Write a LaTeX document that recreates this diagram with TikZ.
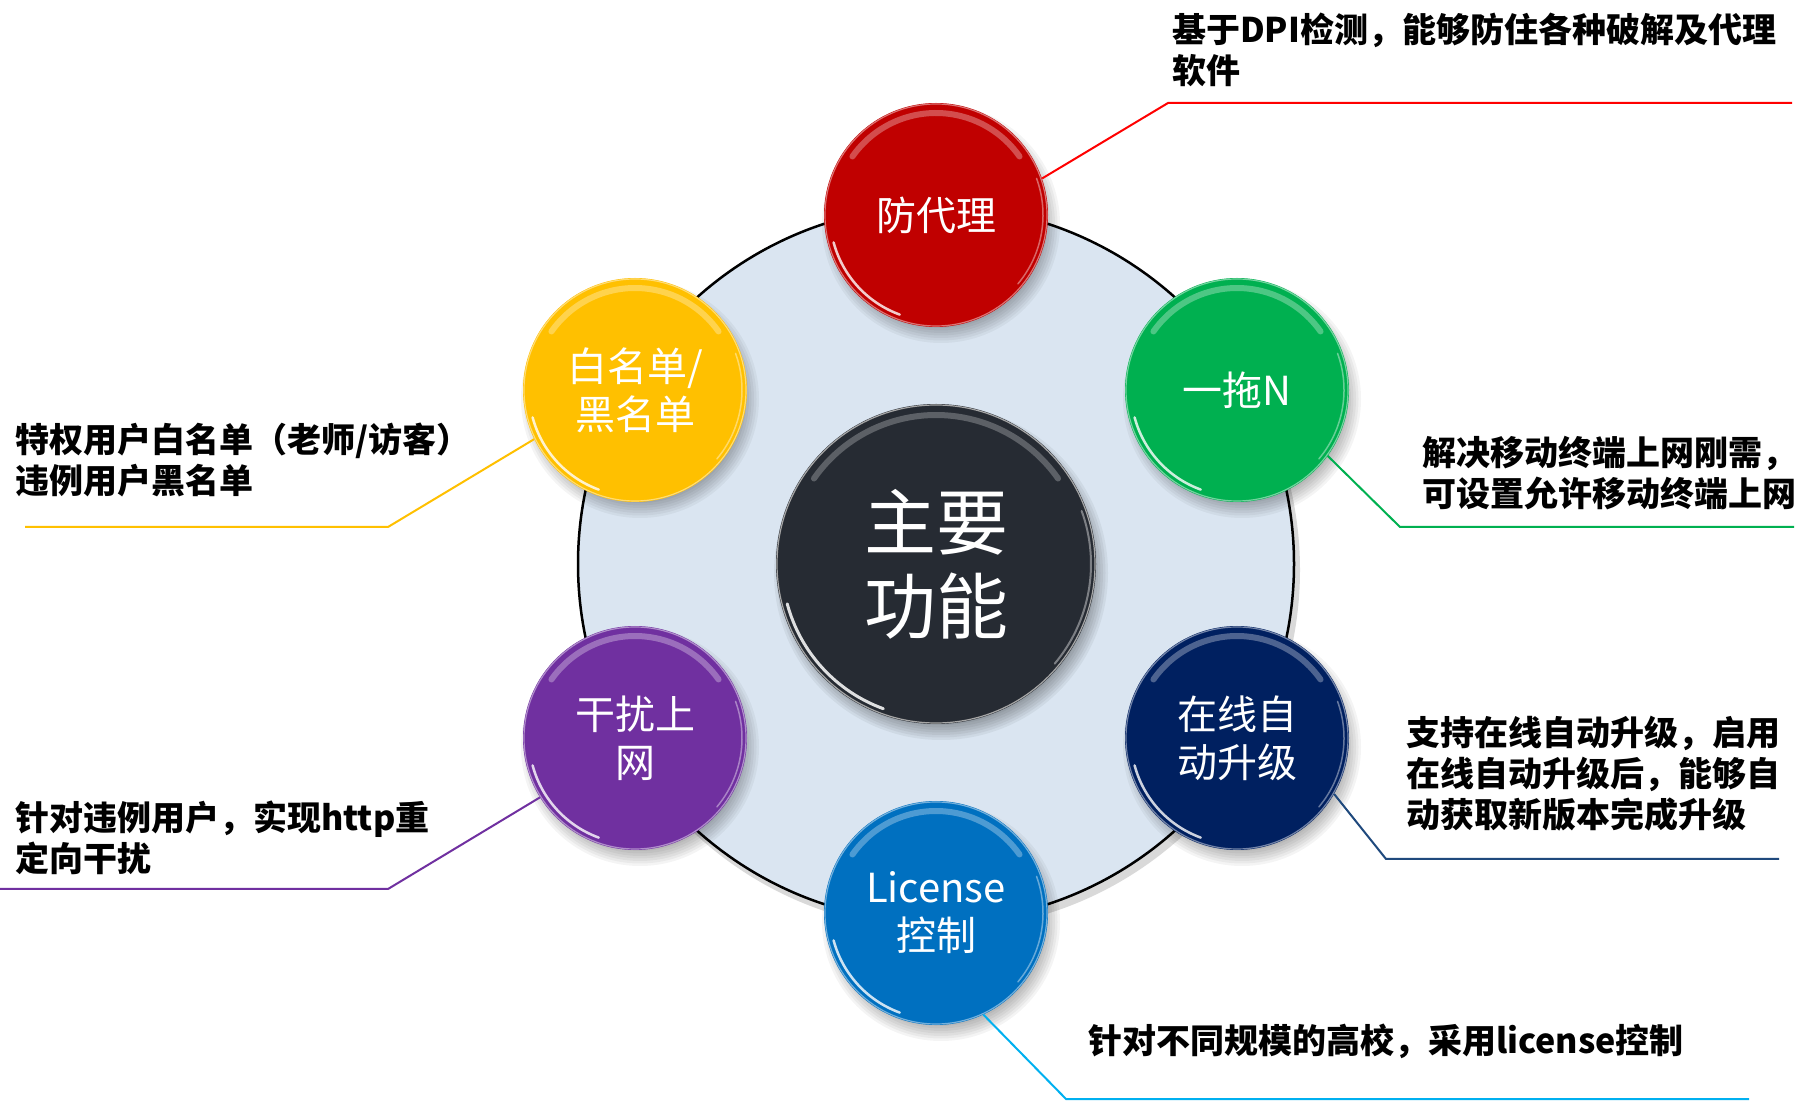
\documentclass[tikz,border=0pt]{standalone}
\usepackage{fontspec}
\newfontfamily\cjk{Noto Sans CJK SC}
\usetikzlibrary{calc}
\definecolor{cred}{HTML}{C00000}
\definecolor{lred}{HTML}{FF0000}
\definecolor{cgreen}{HTML}{00B050}
\definecolor{cnavy}{HTML}{002060}
\definecolor{lnavy}{HTML}{1F497D}
\definecolor{cblue}{HTML}{0070C0}
\definecolor{lcyan}{HTML}{00B0F0}
\definecolor{cpurple}{HTML}{7030A0}
\definecolor{cyellow}{HTML}{FFC000}
\definecolor{cdark}{HTML}{262B33}
\definecolor{cpale}{HTML}{DAE5F1}
\tikzset{
  bub/.style={circle, minimum size=224pt, inner sep=0pt, text=white,
    font=\cjk\fontsize{40}{48}\selectfont, align=center},
  desc/.style={anchor=west, inner sep=0pt, align=left, text=black,
    font=\cjk\bfseries\fontsize{34}{41}\selectfont},
  conn/.style={line width=2pt},
}
\newcommand\bubble[5]{%
  \foreach \k in {0,...,6}{\fill[black, opacity=0.045] (#2+5,#3-9) circle ({104pt+\k*2.5pt});}
  \node[bub, fill=#4] (#1) at (#2,#3) {#5};
  \draw[white, opacity=.3, line width=6pt, line cap=round] ($(#1.center)+(145:102pt)$) arc[start angle=145, end angle=35, radius=102pt];
  \draw[white, opacity=.8, line width=2.5pt, line cap=round] ($(#1.center)+(195:106pt)$) arc[start angle=195, end angle=250, radius=106pt];
  \draw[white, opacity=.4, line width=1.5pt, line cap=round] ($(#1.center)+(-40:107pt)$) arc[start angle=-40, end angle=20, radius=107pt];
  \draw[#4!55!white, line width=1.2pt] (#1.center) circle (111pt);
}
\begin{document}
\begin{tikzpicture}[x=1pt,y=1pt]
\useasboundingbox (0,0) rectangle (1805,1101);
\fill[white] (0,0) rectangle (1805,1101);
% big pale disc
\fill[black, opacity=0.15] (940,531) circle (360pt);
\node[circle, minimum size=716pt, inner sep=0pt, fill=cpale, draw=black, line width=2.5pt] (disc) at (936,537) {};
% centre
\foreach \k in {0,...,6}{\fill[black, opacity=0.05] (941,528) circle ({152pt+\k*2.5pt});}
\node[circle, minimum size=320pt, inner sep=0pt, fill=cdark, text=white,
  font=\cjk\fontsize{72}{84}\selectfont, align=center] (c) at (936,537) {主要\\功能};
\draw[white, opacity=.25, line width=6pt, line cap=round] ($(c.center)+(145:149pt)$) arc[start angle=145, end angle=35, radius=149pt];
\draw[white, opacity=.85, line width=3pt, line cap=round] ($(c.center)+(195:154pt)$) arc[start angle=195, end angle=250, radius=154pt];
\draw[white, opacity=.4, line width=2pt, line cap=round] ($(c.center)+(-40:155pt)$) arc[start angle=-40, end angle=20, radius=155pt];
\draw[gray!70, line width=1.2pt] (c.center) circle (159pt);
% satellites
\bubble{n1}{936}{886}{cred}{防代理}
\bubble{n2}{1237}{711}{cgreen}{一拖N}
\bubble{n3}{1237}{363}{cnavy}{在线自\\动升级}
\bubble{n4}{936}{188}{cblue}{License\\控制}
\bubble{n5}{635}{363}{cpurple}{干扰上\\网}
\bubble{n6}{635}{711}{cyellow}{白名单/\\黑名单}
% descriptions
\node[desc] (t1) at (1172,1051) {基于DPI检测，能够防住各种破解及代理\\软件};
\node[desc] (t2) at (1422,628) {解决移动终端上网刚需，\\可设置允许移动终端上网};
\node[desc] (t3) at (1406,327) {支持在线自动升级，启用\\在线自动升级后，能够自\\动获取新版本完成升级};
\node[desc] (t4) at (1088,60) {针对不同规模的高校，采用license控制};
\node[desc] (t5) at (15,641) {特权用户白名单（老师/访客）\\违例用户黑名单};
\node[desc] (t6) at (15,263) {针对违例用户，实现http重\\定向干扰};
% connectors
\coordinate (b1) at (1168,998); \coordinate (e1) at (1792,998);
\coordinate (b2) at (1400,574); \coordinate (e2) at (1794,574);
\coordinate (b3) at (1386,242); \coordinate (e3) at (1779,242);
\coordinate (b4) at (1066,2);   \coordinate (e4) at (1749,2);
\coordinate (b5) at (388,212);  \coordinate (e5) at (0,212);
\coordinate (b6) at (388,574);  \coordinate (e6) at (25,574);
\draw[conn, lred] (n1.19) -- (b1) -- (e1);
\draw[conn, cgreen] (n2.-36) -- (b2) -- (e2);
\draw[conn, lnavy] (n3.-30) -- (b3) -- (e3);
\draw[conn, lcyan] (n4.-65) -- (b4) -- (e4);
\draw[conn, cpurple] (n5.212) -- (b5) -- (e5);
\draw[conn, cyellow] (n6.206) -- (b6) -- (e6);
\end{tikzpicture}
\end{document}
